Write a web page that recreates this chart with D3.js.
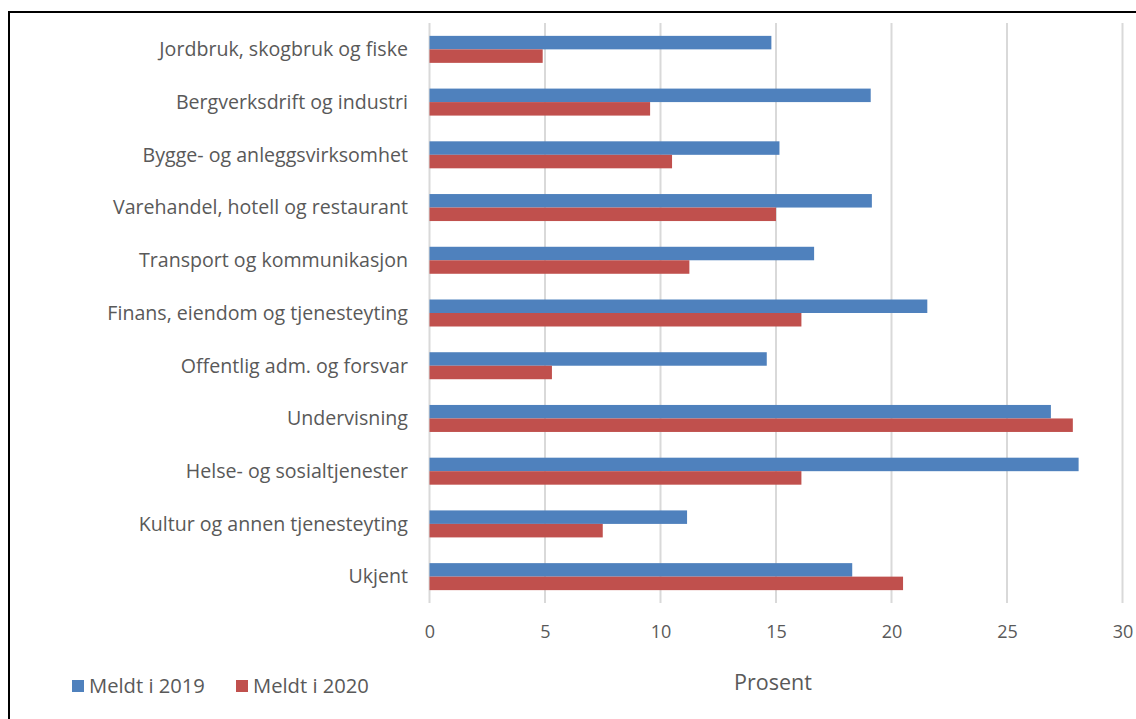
<!DOCTYPE html>
<html>
<head>
<meta charset="utf-8">
<script src="https://cdn.jsdelivr.net/npm/d3@7"></script>
<style>
  html, body { margin: 0; padding: 0; background: #fff; }
  svg { display: block; }
  text { font-family: "Open Sans", Lato, sans-serif; fill: #595959; }
</style>
</head>
<body>
<svg id="chart" width="1136" height="719"></svg>
<script>
const categories = [
  "Jordbruk, skogbruk og fiske",
  "Bergverksdrift og industri",
  "Bygge- og anleggsvirksomhet",
  "Varehandel, hotell og restaurant",
  "Transport og kommunikasjon",
  "Finans, eiendom og tjenesteyting",
  "Offentlig adm. og forsvar",
  "Undervisning",
  "Helse- og sosialtjenester",
  "Kultur og annen tjenesteyting",
  "Ukjent"
];
const values2019 = [14.8, 19.1, 15.15, 19.15, 16.65, 21.55, 14.6, 26.9, 28.1, 11.15, 18.3];
const values2020 = [4.9, 9.55, 10.5, 15.0, 11.25, 16.1, 5.3, 27.85, 16.1, 7.5, 20.5];
const seriesNames = ["Meldt i 2019", "Meldt i 2020"];
const seriesColors = ["#4F81BD", "#C0504D"];
const xTicks = [0, 5, 10, 15, 20, 25, 30];
const xTitle = "Prosent";

const svg = d3.select("#chart");

// outer border
svg.append("rect")
  .attr("x", 9).attr("y", 12)
  .attr("width", 1150).attr("height", 730)
  .attr("fill", "none").attr("stroke", "#000").attr("stroke-width", 2);

const x = d3.scaleLinear().domain([0, 30]).range([429.5, 1122.5]);
const y = d3.scaleBand().domain(categories).range([23, 603]).padding(0);
const barH = 13.5;

// gridlines
svg.append("g").selectAll("line").data(xTicks).join("line")
  .attr("x1", d => x(d)).attr("x2", d => x(d))
  .attr("y1", 23).attr("y2", 603)
  .attr("stroke", "#d9d9d9").attr("stroke-width", 2);

// bars
const data = categories.map((c, i) => ({ c, v: [values2019[i], values2020[i]] }));
const groups = svg.append("g").selectAll("g").data(data).join("g");
groups.selectAll("rect").data(d => d.v.map((v, k) => ({ c: d.c, v, k }))).join("rect")
  .attr("x", x(0))
  .attr("y", d => y(d.c) + y.bandwidth() / 2 - barH + d.k * barH)
  .attr("width", d => x(d.v) - x(0))
  .attr("height", barH)
  .attr("fill", d => seriesColors[d.k]);

// category labels
svg.append("g").selectAll("text").data(categories).join("text")
  .attr("x", 408)
  .attr("y", d => y(d) + y.bandwidth() / 2)
  .attr("dy", "0.35em")
  .attr("text-anchor", "end")
  .attr("font-size", 19.6)
  .text(d => d);

// x axis tick labels
const xAxis = d3.axisBottom(x).tickValues(xTicks).tickSize(0).tickPadding(0);
const gx = svg.append("g").attr("transform", "translate(0,632)").call(xAxis);
gx.select(".domain").remove();
gx.selectAll("text")
  .attr("dy", "0.35em").attr("y", 0)
  .attr("font-size", 18)
  .style("font-family", "'Open Sans', Lato, sans-serif")
  .attr("fill", "#595959");

// axis title
svg.append("text")
  .attr("x", 773).attr("y", 682)
  .attr("dy", "0.35em")
  .attr("text-anchor", "middle")
  .attr("font-size", 21.5)
  .text(xTitle);

// legend
const legendX = [72, 236];
const lg = svg.append("g").selectAll("g").data(seriesNames).join("g")
  .attr("transform", (d, i) => `translate(${legendX[i]},686)`);
lg.append("rect").attr("x", 0).attr("y", -6).attr("width", 12).attr("height", 12)
  .attr("fill", (d, i) => seriesColors[i]);
lg.append("text").attr("x", 17).attr("dy", "0.35em").attr("font-size", 20.2).text(d => d);
</script>
</body>
</html>
